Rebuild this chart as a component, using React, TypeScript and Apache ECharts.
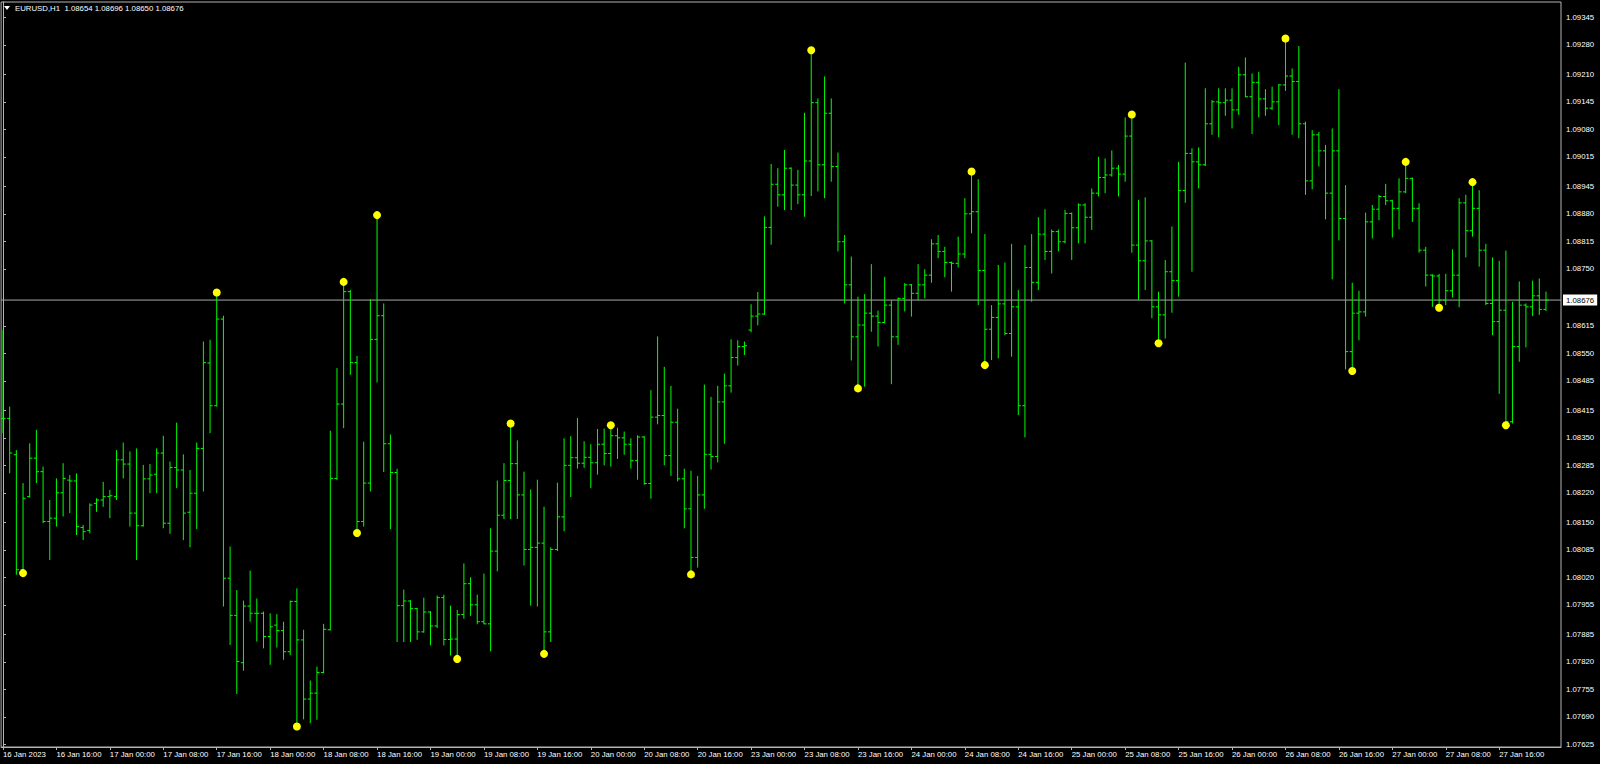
import React, { useEffect, useRef } from "react";
import * as echarts from "echarts";

// EURUSD H1, first bar = 16 Jan 2023 08:00, one bar per hour (weekend skipped)
const symbolName = "EURUSD,H1";

const open = [
  1.08396,1.08396,1.08310,1.08038,1.08211,1.08302,1.08270,1.08152,
  1.08160,1.08220,1.08250,1.08248,1.08138,1.08131,1.08195,1.08203,
  1.08211,1.08211,1.08298,1.08288,1.08172,1.08142,1.08253,1.08264,
  1.08314,1.08148,1.08280,1.08274,1.08174,1.08219,1.08325,1.08527,
  1.08426,1.08631,1.08018,1.07930,1.07818,1.07952,1.07935,1.07935,
  1.07880,1.07907,1.07894,1.07844,1.07963,1.07872,1.07732,1.07746,
  1.07795,1.07896,1.08254,1.08430,1.08696,1.08528,1.08152,1.08243,
  1.08583,1.08639,1.08336,1.08268,1.07953,1.07964,1.07946,1.07891,
  1.07938,1.07905,1.07972,1.07873,1.07874,1.07932,1.08005,1.07955,
  1.07915,1.07910,1.08082,1.08167,1.08249,1.08289,1.08215,1.08086,
  1.08091,1.08101,1.07891,1.08086,1.08163,1.08285,1.08303,1.08290,
  1.08304,1.08291,1.08335,1.08313,1.08355,1.08350,1.08335,1.08296,
  1.08352,1.08242,1.08399,1.08403,1.08308,1.08387,1.08253,1.08182,
  1.08067,1.08215,1.08311,1.08306,1.08435,1.08473,1.08540,1.08566,
  1.08605,1.08638,1.08643,1.08848,1.08950,1.08925,1.08988,1.08948,
  1.08925,1.09005,1.09143,1.08996,1.09118,1.08992,1.08814,1.08712,
  1.08589,1.08617,1.08645,1.08638,1.08623,1.08664,1.08589,1.08680,
  1.08712,1.08692,1.08712,1.08735,1.08809,1.08791,1.08765,1.08763,
  1.08785,1.08880,1.08885,1.08746,1.08607,1.08635,1.08667,1.08597,
  1.08660,1.08426,1.08753,1.08718,1.08832,1.08791,1.08838,1.08814,
  1.08881,1.08847,1.08901,1.08872,1.08929,1.08966,1.08972,1.08988,
  1.08974,1.09064,1.08806,1.08769,1.08816,1.08660,1.08641,1.08743,
  1.08722,1.08935,1.09023,1.09003,1.08996,1.09093,1.09145,1.09143,
  1.09149,1.09126,1.09209,1.09157,1.09191,1.09152,1.09130,1.09145,
  1.09185,1.09206,1.09193,1.09093,1.08958,1.09067,1.09029,1.08929,
  1.09029,1.08869,1.08554,1.08645,1.08648,1.08861,1.08891,1.08921,
  1.08911,1.08893,1.08932,1.08964,1.08893,1.08794,1.08735,1.08733,
  1.08676,1.08698,1.08735,1.08906,1.08840,1.08893,1.08794,1.08668,
  1.08625,1.08652,1.08388,1.08566,1.08664,1.08660,1.08686,1.08654,
];

const high = [
  1.08605,1.08424,1.08321,1.08243,1.08337,1.08369,1.08282,1.08203,
  1.08254,1.08290,1.08262,1.08266,1.08144,1.08195,1.08207,1.08246,
  1.08227,1.08321,1.08339,1.08318,1.08325,1.08286,1.08288,1.08325,
  1.08355,1.08294,1.08386,1.08311,1.08274,1.08339,1.08578,1.08582,
  1.08694,1.08639,1.08093,1.07990,1.07965,1.08036,1.07970,1.07939,
  1.07935,1.07933,1.07915,1.07965,1.07994,1.07896,1.07776,1.07809,
  1.07910,1.08367,1.08515,1.08719,1.08700,1.08544,1.08341,1.08678,
  1.08877,1.08668,1.08358,1.08277,1.07991,1.07966,1.07948,1.07972,
  1.07940,1.07977,1.07979,1.07953,1.07943,1.08053,1.08020,1.07979,
  1.08029,1.08136,1.08249,1.08290,1.08384,1.08344,1.08270,1.08228,
  1.08251,1.08187,1.08091,1.08244,1.08349,1.08354,1.08397,1.08342,
  1.08335,1.08371,1.08372,1.08380,1.08374,1.08365,1.08349,1.08356,
  1.08354,1.08463,1.08590,1.08518,1.08473,1.08419,1.08277,1.08272,
  1.08260,1.08476,1.08447,1.08473,1.08502,1.08583,1.08581,1.08578,
  1.08666,1.08695,1.08874,1.08998,1.08988,1.09031,1.08990,1.08984,
  1.09119,1.09267,1.09153,1.09205,1.09153,1.09025,1.08830,1.08779,
  1.08684,1.08690,1.08761,1.08651,1.08731,1.08676,1.08682,1.08716,
  1.08714,1.08761,1.08749,1.08820,1.08830,1.08802,1.08767,1.08826,
  1.08917,1.08980,1.08962,1.08832,1.08664,1.08759,1.08765,1.08809,
  1.08700,1.08806,1.08832,1.08872,1.08891,1.08843,1.08843,1.08889,
  1.08883,1.08905,1.08905,1.08940,1.09015,1.09011,1.09030,1.08996,
  1.09108,1.09115,1.08913,1.08919,1.08818,1.08696,1.08771,1.08850,
  1.09003,1.09238,1.09035,1.09037,1.09177,1.09149,1.09177,1.09177,
  1.09177,1.09228,1.09250,1.09212,1.09216,1.09175,1.09181,1.09187,
  1.09295,1.09224,1.09277,1.09098,1.09078,1.09074,1.09043,1.09082,
  1.09175,1.08948,1.08717,1.08698,1.08883,1.08901,1.08925,1.08951,
  1.08913,1.08964,1.09003,1.08966,1.08905,1.08802,1.08737,1.08738,
  1.08738,1.08796,1.08917,1.08925,1.08955,1.08936,1.08809,1.08777,
  1.08769,1.08793,1.08672,1.08720,1.08668,1.08722,1.08727,1.08696,
];

const low = [
  1.08361,1.08266,1.08026,1.08030,1.08209,1.08243,1.08148,1.08061,
  1.08140,1.08164,1.08172,1.08120,1.08108,1.08124,1.08175,1.08187,
  1.08160,1.08203,1.08254,1.08140,1.08061,1.08140,1.08219,1.08219,
  1.08136,1.08123,1.08231,1.08108,1.08091,1.08134,1.08223,1.08361,
  1.08424,1.07951,1.07860,1.07744,1.07799,1.07915,1.07868,1.07852,
  1.07813,1.07854,1.07825,1.07836,1.07667,1.07684,1.07675,1.07683,
  1.07793,1.07894,1.08250,1.08373,1.08499,1.08125,1.08140,1.08223,
  1.08481,1.08269,1.08134,1.07867,1.07867,1.07867,1.07872,1.07889,
  1.07859,1.07900,1.07859,1.07835,1.07827,1.07922,1.07929,1.07909,
  1.07909,1.07845,1.08034,1.08158,1.08158,1.08158,1.08048,1.07953,
  1.07951,1.07839,1.07867,1.08082,1.08129,1.08210,1.08277,1.08279,
  1.08231,1.08263,1.08285,1.08282,1.08300,1.08310,1.08277,1.08251,
  1.08239,1.08206,1.08382,1.08285,1.08260,1.08247,1.08136,1.08027,
  1.08043,1.08182,1.08275,1.08292,1.08336,1.08457,1.08521,1.08546,
  1.08600,1.08616,1.08641,1.08807,1.08897,1.08889,1.08889,1.08903,
  1.08873,1.08922,1.08933,1.08917,1.08956,1.08791,1.08668,1.08533,
  1.08467,1.08471,1.08601,1.08566,1.08621,1.08477,1.08570,1.08649,
  1.08637,1.08676,1.08680,1.08717,1.08775,1.08730,1.08696,1.08753,
  1.08775,1.08834,1.08664,1.08522,1.08534,1.08538,1.08593,1.08542,
  1.08404,1.08351,1.08672,1.08700,1.08771,1.08739,1.08791,1.08810,
  1.08771,1.08810,1.08810,1.08842,1.08921,1.08929,1.08968,1.08921,
  1.08956,1.08788,1.08676,1.08700,1.08633,1.08574,1.08585,1.08646,
  1.08684,1.08906,1.08743,1.08940,1.08993,1.09067,1.09061,1.09112,
  1.09082,1.09114,1.09156,1.09069,1.09108,1.09112,1.09126,1.09090,
  1.09171,1.09067,1.09059,1.08925,1.08938,1.08992,1.08867,1.08725,
  1.08817,1.08512,1.08508,1.08581,1.08637,1.08822,1.08865,1.08901,
  1.08824,1.08843,1.08929,1.08861,1.08788,1.08708,1.08660,1.08658,
  1.08664,1.08682,1.08659,1.08777,1.08826,1.08755,1.08664,1.08593,
  1.08454,1.08380,1.08384,1.08530,1.08564,1.08638,1.08641,1.08650,
];

const close = [
  1.08396,1.08314,1.08038,1.08207,1.08302,1.08270,1.08152,1.08160,
  1.08220,1.08254,1.08248,1.08140,1.08128,1.08191,1.08203,1.08211,
  1.08213,1.08298,1.08288,1.08172,1.08142,1.08253,1.08262,1.08314,
  1.08148,1.08280,1.08274,1.08172,1.08219,1.08325,1.08528,1.08426,
  1.08631,1.08018,1.07930,1.07821,1.07952,1.07935,1.07935,1.07880,
  1.07903,1.07894,1.07844,1.07963,1.07872,1.07732,1.07746,1.07795,
  1.07897,1.08254,1.08430,1.08696,1.08528,1.08152,1.08243,1.08583,
  1.08639,1.08336,1.08268,1.07953,1.07964,1.07946,1.07891,1.07938,
  1.07905,1.07972,1.07873,1.07874,1.07932,1.08005,1.07955,1.07915,
  1.07910,1.08082,1.08167,1.08249,1.08289,1.08215,1.08086,1.08091,
  1.08101,1.07891,1.08086,1.08163,1.08285,1.08303,1.08290,1.08304,
  1.08291,1.08335,1.08313,1.08355,1.08350,1.08335,1.08296,1.08352,
  1.08242,1.08399,1.08403,1.08308,1.08387,1.08253,1.08182,1.08067,
  1.08215,1.08311,1.08306,1.08435,1.08473,1.08540,1.08566,1.08568,
  1.08638,1.08643,1.08848,1.08950,1.08925,1.08988,1.08948,1.08925,
  1.09005,1.09143,1.08996,1.09118,1.08992,1.08814,1.08712,1.08589,
  1.08617,1.08645,1.08638,1.08623,1.08664,1.08589,1.08680,1.08712,
  1.08692,1.08712,1.08735,1.08809,1.08791,1.08765,1.08763,1.08785,
  1.08880,1.08885,1.08746,1.08607,1.08635,1.08667,1.08597,1.08660,
  1.08426,1.08753,1.08718,1.08832,1.08791,1.08838,1.08814,1.08881,
  1.08847,1.08901,1.08872,1.08929,1.08966,1.08972,1.08988,1.08974,
  1.09064,1.08806,1.08769,1.08816,1.08660,1.08641,1.08743,1.08722,
  1.08935,1.09023,1.09003,1.08996,1.09093,1.09145,1.09143,1.09149,
  1.09126,1.09209,1.09157,1.09191,1.09152,1.09130,1.09145,1.09185,
  1.09206,1.09193,1.09093,1.08958,1.09067,1.09029,1.08929,1.09029,
  1.08869,1.08554,1.08645,1.08648,1.08861,1.08891,1.08921,1.08911,
  1.08893,1.08932,1.08964,1.08893,1.08794,1.08735,1.08733,1.08676,
  1.08698,1.08735,1.08906,1.08840,1.08893,1.08794,1.08668,1.08625,
  1.08652,1.08388,1.08566,1.08664,1.08660,1.08686,1.08654,1.08676,
];

// zigzag pivots (yellow dots): bar index and price
const pivotIndex = [3, 32, 44, 51, 53, 56, 68, 76, 81, 91, 103, 121, 128, 145, 147, 169, 173, 192, 202, 210, 215, 220, 225];
const pivotPrice = [
  1.08030, 1.08694, 1.07667, 1.08719, 1.08125, 1.08877, 1.07827, 1.08384, 1.07839, 1.08380, 1.08027,
  1.09267, 1.08467, 1.08980, 1.08522, 1.09115, 1.08574, 1.09295, 1.08508, 1.09003, 1.08658, 1.08955, 1.08380,
];

// time-axis ticks (bar index) and their labels
const timeTickIndex = [0, 8, 16, 24, 32, 40, 48, 56, 64, 72, 80, 88, 96, 104, 112, 120, 128, 136, 144, 152, 160, 168, 176, 184, 192, 200, 208, 216, 224];
const timeTickLabels = [
  "16 Jan 2023", "16 Jan 16:00", "17 Jan 00:00", "17 Jan 08:00", "17 Jan 16:00", "18 Jan 00:00",
  "18 Jan 08:00", "18 Jan 16:00", "19 Jan 00:00", "19 Jan 08:00", "19 Jan 16:00", "20 Jan 00:00",
  "20 Jan 08:00", "20 Jan 16:00", "23 Jan 00:00", "23 Jan 08:00", "23 Jan 16:00", "24 Jan 00:00",
  "24 Jan 08:00", "24 Jan 16:00", "25 Jan 00:00", "25 Jan 08:00", "25 Jan 16:00", "26 Jan 00:00",
  "26 Jan 08:00", "26 Jan 16:00", "27 Jan 00:00", "27 Jan 08:00", "27 Jan 16:00",
];

// price-axis labels
const priceTicks = [
  1.09345, 1.09280, 1.09210, 1.09145, 1.09080, 1.09015, 1.08945, 1.08880, 1.08815, 1.08750,
  1.08615, 1.08550, 1.08485, 1.08415, 1.08350, 1.08285, 1.08220, 1.08150, 1.08085, 1.08020,
  1.07955, 1.07885, 1.07820, 1.07755, 1.07690, 1.07625,
];

const FONT = "'Liberation Sans', Arial, sans-serif";
const AXIS_GRAY = "#b4b4b4";
const X_MIN = -0.284;
const X_MAX = 233.25;

export default function App() {
  const ref = useRef<HTMLDivElement>(null);

  useEffect(() => {
    document.body.style.margin = "0";
    document.body.style.background = "#000";
    const chart = echarts.init(ref.current as HTMLDivElement, null, { renderer: "svg" });
    const n = open.length;
    const last = n - 1;
    const lastPrice = close[last];
    const bars = open.map((o, i) => [i, o, high[i], low[i], close[i]]);
    const pivots = pivotIndex.map((i, k) => [i, pivotPrice[k]]);
    const header = `${symbolName}  ${open[last].toFixed(5)} ${high[last].toFixed(5)} ${low[last].toFixed(5)} ${close[last].toFixed(5)}`;

    const option: any = {
      animation: false,
      backgroundColor: "#000000",
      textStyle: { fontFamily: FONT },
      grid: {
        left: 1, right: 39, top: 2, bottom: 17,
        show: true, borderColor: AXIS_GRAY, borderWidth: 1, backgroundColor: "transparent",
      },
      xAxis: {
        type: "value",
        min: X_MIN,
        max: X_MAX,
        splitLine: { show: false },
        axisLine: { show: true, lineStyle: { color: AXIS_GRAY, width: 1 } },
        axisTick: { show: true, customValues: timeTickIndex, length: 3, lineStyle: { color: AXIS_GRAY } },
        axisLabel: {
          customValues: timeTickIndex,
          formatter: (v: number) => {
            const k = timeTickIndex.indexOf(Math.round(v));
            return k >= 0 ? timeTickLabels[k] : "";
          },
          color: "#ffffff",
          fontSize: 7.8,
          fontFamily: FONT,
          align: "left",
          margin: 3,
        },
      },
      yAxis: {
        type: "value",
        position: "right",
        min: 1.076186,
        max: 1.093812,
        splitLine: { show: false },
        axisLine: { show: true, lineStyle: { color: AXIS_GRAY, width: 1 } },
        axisTick: { show: true, customValues: priceTicks, length: 3, lineStyle: { color: AXIS_GRAY } },
        axisLabel: {
          customValues: priceTicks,
          formatter: (v: number) => v.toFixed(5),
          color: "#ffffff",
          fontSize: 7.8,
          fontFamily: FONT,
          margin: 5,
        },
      },
      graphic: [
        { type: "polygon", shape: { points: [[4, 6], [10, 6], [7, 10]] }, style: { fill: "#ffffff" }, z: 10 },
        {
          type: "text", left: 15, top: 4, z: 10,
          style: { text: header, fill: "#ffffff", font: `7.8px ${FONT}` },
        },
      ],
      series: [
        {
          type: "line",
          name: "price",
          data: [[X_MIN, lastPrice], [X_MAX, lastPrice]],
          symbol: "none",
          silent: true,
          clip: false,
          lineStyle: { color: "#a8a8a8", width: 1, type: "solid" },
          z: 1,
          endLabel: {
            show: true,
            formatter: () => lastPrice.toFixed(5),
            backgroundColor: "#ffffff",
            color: "#000000",
            fontSize: 7.8,
            fontFamily: FONT,
            padding: [2, 3, 1, 3],
            distance: 2,
          },
        },
        {
          type: "custom",
          name: "bars",
          data: bars,
          clip: true,
          encode: { x: 0, y: [1, 2, 3, 4] },
          renderItem: (_params: any, api: any) => {
            const i = api.value(0);
            const pO = api.coord([i, api.value(1)]);
            const pH = api.coord([i, api.value(2)]);
            const pL = api.coord([i, api.value(3)]);
            const pC = api.coord([i, api.value(4)]);
            const x = pH[0];
            const style = { stroke: "#00ff00", lineWidth: 1, fill: null };
            return {
              type: "group",
              children: [
                { type: "line", shape: { x1: x, y1: pH[1], x2: x, y2: pL[1] }, style },
                { type: "line", shape: { x1: x - 2.6, y1: pO[1], x2: x, y2: pO[1] }, style },
                { type: "line", shape: { x1: x, y1: pC[1], x2: x + 2.6, y2: pC[1] }, style },
              ],
            };
          },
          z: 2,
        },
        {
          type: "scatter",
          name: "zigzag",
          data: pivots,
          symbol: "circle",
          symbolSize: 8,
          itemStyle: { color: "#ffff00", opacity: 1 },
          z: 4,
          silent: true,
        },
      ],
    };
    chart.setOption(option);
    return () => chart.dispose();
  }, []);

  return (
    <div style={{ position: "fixed", left: 0, top: 0, width: 1600, height: 764, background: "#000" }}>
      <div ref={ref} style={{ width: 1600, height: 764 }} />
    </div>
  );
}
